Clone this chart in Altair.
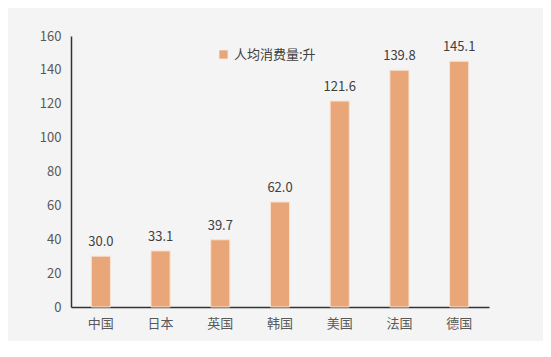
import altair as alt
import pandas as pd

countries = ["中国", "日本", "英国", "韩国", "美国", "法国", "德国"]
values = [30.0, 33.1, 39.7, 62.0, 121.6, 139.8, 145.1]
series_name = "人均消费量:升"

df = pd.DataFrame({"country": countries, "value": values, "series": [series_name] * len(countries)})

FONT = "Noto Sans CJK SC"
BAR = "#E9A779"

x = alt.X("country:N", sort=countries, title=None,
          scale=alt.Scale(paddingInner=0.68, paddingOuter=0.34),
          axis=alt.Axis(labelAngle=0, ticks=False, domainColor="#333333", domainWidth=1.5,
                        labelColor="#595959", labelFontSize=13, labelPadding=10, labelFont=FONT))
y = alt.Y("value:Q", title=None,
          scale=alt.Scale(domain=[0, 160]),
          axis=alt.Axis(values=list(range(0, 161, 20)), grid=False, ticks=False, labelOverlap=False,
                        domainColor="#333333", domainWidth=1.5,
                        labelColor="#595959", labelFontSize=13, labelPadding=10, labelFont=FONT))

base = alt.Chart(df).encode(x=x, y=y)

bars = base.mark_bar(stroke="#f8e3d3", strokeWidth=1).encode(
    color=alt.Color("series:N", scale=alt.Scale(range=[BAR]),
                    legend=alt.Legend(title=None, orient="none", legendX=146, legendY=12,
                                      symbolType="square", symbolSize=70, symbolStrokeWidth=0,
                                      labelFontSize=13, labelColor="#404040", labelFont=FONT)),
)

labels = base.mark_text(dy=-14, fontSize=13, color="#404040", font=FONT).encode(
    text=alt.Text("value:Q", format=".1f"),
)

chart = (bars + labels).properties(
    width=418, height=271,
    background="#f4f4f4",
    padding={"left": 63, "top": 28, "right": 54, "bottom": 34},
    autosize=alt.AutoSizeParams(type="none"),
).configure_view(stroke=None)

chart.save("out.html", embed_options={"renderer": "svg", "actions": False})
